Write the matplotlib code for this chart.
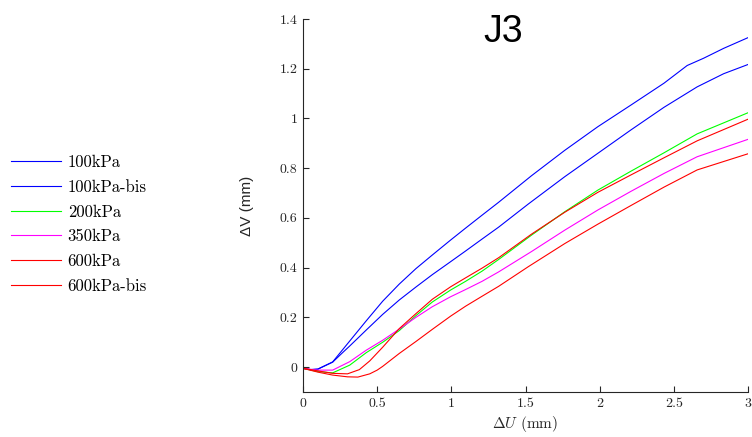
import matplotlib
matplotlib.use("Agg")
import matplotlib.pyplot as plt

plt.rcParams['mathtext.fontset'] = 'cm'
plt.rcParams['axes.unicode_minus'] = False

# ---- measured curves: dU (mm) vs dV (mm) ----
x_100 = [0, 0.05, 0.1, 0.2, 0.315, 0.426, 0.537, 0.649, 0.761, 0.872, 0.995, 1.096,
         1.207, 1.319, 1.541, 1.765, 1.988, 2.211, 2.434, 2.59, 2.70, 2.836, 3.0]
y_100 = [-0.005, -0.01, -0.008, 0.021, 0.105, 0.186, 0.265, 0.334, 0.396, 0.451, 0.511, 0.559,
         0.611, 0.663, 0.77, 0.872, 0.967, 1.054, 1.142, 1.213, 1.242, 1.282, 1.325]

x_100b = [0, 0.05, 0.1, 0.2, 0.27, 0.315, 0.426, 0.537, 0.649, 0.761, 0.872, 0.995, 1.096,
          1.207, 1.319, 1.519, 1.765, 1.988, 2.211, 2.434, 2.657, 2.836, 3.0]
y_100b = [-0.005, -0.01, -0.008, 0.02, 0.06, 0.085, 0.149, 0.212, 0.27, 0.322, 0.372, 0.424, 0.467,
          0.515, 0.563, 0.656, 0.766, 0.86, 0.954, 1.045, 1.127, 1.18, 1.217]

x_200 = [0, 0.1, 0.2, 0.315, 0.426, 0.537, 0.649, 0.761, 0.872, 0.995, 1.096, 1.207,
         1.319, 1.541, 1.765, 1.988, 2.211, 2.434, 2.657, 3.0]
y_200 = [-0.005, -0.018, -0.023, 0.008, 0.058, 0.1, 0.147, 0.207, 0.262, 0.31, 0.345, 0.386,
         0.433, 0.531, 0.625, 0.712, 0.788, 0.862, 0.938, 1.023]

x_350 = [0, 0.1, 0.2, 0.315, 0.426, 0.537, 0.649, 0.761, 0.872, 0.995, 1.096, 1.207,
         1.319, 1.541, 1.765, 1.988, 2.211, 2.434, 2.657, 3.0]
y_350 = [-0.005, -0.012, -0.012, 0.022, 0.068, 0.108, 0.153, 0.2, 0.243, 0.283, 0.312, 0.345,
         0.383, 0.465, 0.551, 0.632, 0.707, 0.779, 0.846, 0.916]

x_600 = [0, 0.1, 0.2, 0.3, 0.38, 0.45, 0.537, 0.649, 0.761, 0.872, 0.995, 1.096, 1.207,
         1.319, 1.541, 1.765, 1.988, 2.211, 2.434, 2.657, 3.0]
y_600 = [-0.005, -0.015, -0.025, -0.027, -0.01, 0.025, 0.08, 0.155, 0.215, 0.273, 0.323, 0.359, 0.398,
         0.44, 0.535, 0.623, 0.703, 0.773, 0.842, 0.91, 0.997]

x_600b = [0, 0.1, 0.2, 0.3, 0.37, 0.45, 0.5, 0.537, 0.649, 0.761, 0.872, 0.995, 1.096,
          1.207, 1.319, 1.519, 1.765, 1.988, 2.211, 2.434, 2.657, 3.0]
y_600b = [-0.005, -0.02, -0.032, -0.039, -0.04, -0.027, -0.012, 0.003, 0.055, 0.103, 0.152, 0.205, 0.245,
          0.285, 0.325, 0.404, 0.497, 0.575, 0.65, 0.724, 0.793, 0.858]

labels = ['100kPa', '100kPa-bis', '200kPa', '350kPa', '600kPa', '600kPa-bis']
colors = ['#0000ff', '#0000ff', '#00ff00', '#ff00ff', '#ff0000', '#ff0000']

xticks = [0, 0.5, 1, 1.5, 2, 2.5, 3]
xtick_labels = ['0', '0.5', '1', '1.5', '2', '2.5', '3']
yticks = [0, 0.2, 0.4, 0.6, 0.8, 1.0, 1.2, 1.4]
ytick_labels = ['0', '0.2', '0.4', '0.6', '0.8', '1', '1.2', '1.4']

W, H = 752, 437
fig = plt.figure(figsize=(W / 100, H / 100), dpi=100)
ax = fig.add_axes([303 / W, 1 - 392 / H, 445 / W, 373 / H])

series = [(x_100, y_100), (x_100b, y_100b), (x_200, y_200),
          (x_350, y_350), (x_600, y_600), (x_600b, y_600b)]
for (xs, ys), lab, c in zip(series, labels, colors):
    ax.plot(xs, ys, color=c, lw=0.8, label=lab)

ax.set_xlim(0, 3)
ax.set_ylim(-0.1, 1.4)
ax.set_xticks(xticks, labels=xtick_labels)
ax.set_yticks(yticks, labels=ytick_labels)
for t in ax.get_xticklabels() + ax.get_yticklabels():
    t.set_fontfamily('cmr10')
    t.set_fontsize(10)
    t.set_color('#262626')
ax.tick_params(direction='in', length=4, width=0.8, color='#262626', pad=4)
for s in ['top', 'right']:
    ax.spines[s].set_visible(False)
for s in ['left', 'bottom']:
    ax.spines[s].set_color('#262626')
    ax.spines[s].set_linewidth(0.8)

fig.text(503 / W, 1 - 32 / H, 'J3', ha='center', va='center',
         fontsize=27, family='Liberation Sans')
fig.text(247 / W, 1 - 206 / H, '\u0394V (mm)', ha='center', va='center',
         rotation=90, fontsize=11, family='Liberation Sans', color='#262626')
fig.text(525 / W, 1 - 424 / H, r'$\Delta U$ (mm)', ha='center', va='center',
         fontsize=11, family='cmr10', color='#262626')

handles, labs = ax.get_legend_handles_labels()
fig.legend(handles, labs, loc='upper left', bbox_to_anchor=(11 / W, 1 - 155 / H),
           frameon=False, borderpad=0, borderaxespad=0, handlelength=3.0,
           handletextpad=0.4, labelspacing=0.56, prop={'family': 'cmr10', 'size': 12})

fig.savefig('out.png', dpi=100)
